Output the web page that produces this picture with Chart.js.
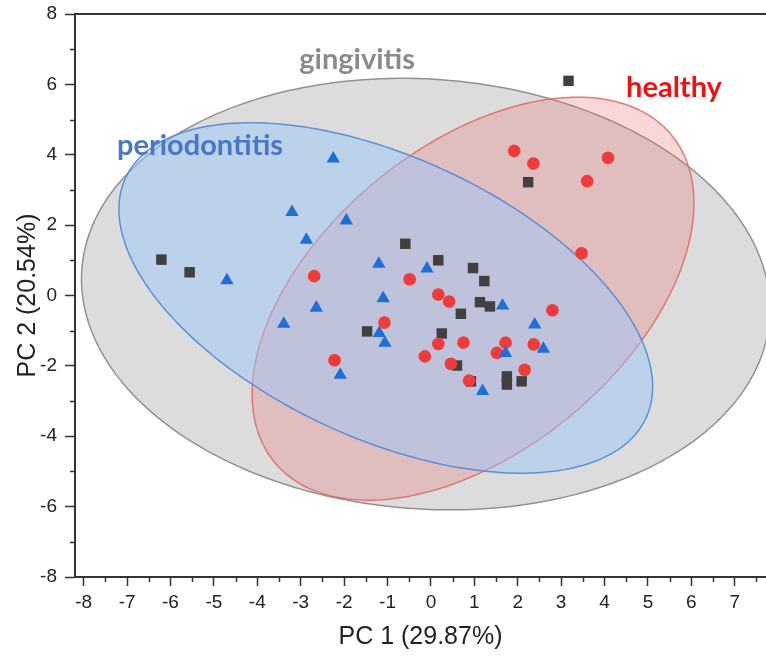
<!DOCTYPE html>
<html>
<head>
<meta charset="utf-8">
<script src="https://cdn.jsdelivr.net/npm/chart.js@4/dist/chart.umd.min.js"></script>
<style>
  html, body { margin: 0; padding: 0; background: #ffffff; }
  #wrap { width: 766px; height: 659px; }
</style>
</head>
<body>
<div id="wrap"><canvas id="pca" width="766" height="659"></canvas></div>
<script>
// Axis tick values
const xTickValues = [-8, -7, -6, -5, -4, -3, -2, -1, 0, 1, 2, 3, 4, 5, 6, 7];
const yTickValues = [-8, -6, -4, -2, 0, 2, 4, 6, 8];

// Group names
const groups = ['gingivitis', 'healthy', 'periodontitis'];

// PCA scores, gingivitis samples
const gingivitisPC1 = [3.17, 2.24, -6.21, -5.56, -0.59, 0.17, 0.97, 1.23, 1.13, 1.36, 0.69, 0.25, -1.47, 0.60, 0.92, 1.75, 1.75, 2.09];
const gingivitisPC2 = [6.10, 3.22, 1.02, 0.66, 1.47, 1.00, 0.78, 0.41, -0.19, -0.31, -0.52, -1.08, -1.02, -1.99, -2.44, -2.30, -2.53, -2.44];

// PCA scores, healthy samples
const healthyPC1 = [1.92, 2.36, 4.08, 3.60, 3.47, -2.69, -0.49, -1.07, 0.17, 0.42, 2.80, -2.22, -0.14, 0.17, 0.75, 1.72, 1.52, 2.37, 0.46, 0.88, 2.16];
const healthyPC2 = [4.11, 3.75, 3.91, 3.25, 1.20, 0.55, 0.46, -0.77, 0.03, -0.17, -0.42, -1.84, -1.73, -1.38, -1.34, -1.34, -1.63, -1.39, -1.94, -2.42, -2.11];

// PCA scores, periodontitis samples
const periodontitisPC1 = [-2.25, -3.20, -1.95, -2.87, -4.70, -2.64, -3.39, -2.09, -1.20, -0.09, -1.10, -1.19, -1.06, 1.65, 2.39, 2.59, 1.72, 1.19];
const periodontitisPC2 = [3.89, 2.37, 2.13, 1.58, 0.43, -0.35, -0.81, -2.26, 0.90, 0.76, -0.08, -1.07, -1.35, -0.29, -0.83, -1.52, -1.64, -2.72];

// 95% confidence ellipses: centre and covariance (sxx, sxy, syy) per group
const ellipseCentreX = [-0.12, 0.97, -1.04];
const ellipseCentreY = [0.04, -0.09, -0.07];
const ellipseSxx = [62.9, 25.9, 37.8];
const ellipseSxy = [-3.4, 13.8, -15.5];
const ellipseSyy = [37.6, 32.8, 24.8];

const toPoints = (xs, ys) => xs.map((x, i) => ({ x: x, y: ys[i] }));

const groupStyle = {
  gingivitis:    { marker: '#404040', fill: 'rgba(150,150,150,0.33)', line: 'rgba(140,140,140,0.95)', text: '#8a8a8a' },
  healthy:       { marker: '#ee3b3b', fill: 'rgba(238,110,110,0.28)', line: 'rgba(228,100,100,0.85)', text: '#f01010' },
  periodontitis: { marker: '#1f6fd6', fill: 'rgba(150,200,255,0.45)', line: 'rgba(85,140,215,0.95)', text: '#4a76c6' }
};

// Draws the confidence ellipses under the markers, mapped through the chart scales
const ellipsePlugin = {
  id: 'confidenceEllipses',
  beforeDatasetsDraw(chart) {
    const { ctx, chartArea, scales } = chart;
    const drawOrder = [0, 1, 2]; // gingivitis, healthy, periodontitis
    ctx.save();
    ctx.beginPath();
    ctx.rect(chartArea.left, chartArea.top, chartArea.right - chartArea.left, chartArea.bottom - chartArea.top);
    ctx.clip();
    drawOrder.forEach(g => {
      const l11 = Math.sqrt(ellipseSxx[g]);
      const l21 = ellipseSxy[g] / l11;
      const l22 = Math.sqrt(ellipseSyy[g] - l21 * l21);
      const st = groupStyle[groups[g]];
      ctx.beginPath();
      const n = 240;
      for (let k = 0; k <= n; k++) {
        const t = (k / n) * Math.PI * 2;
        const c = Math.cos(t), s = Math.sin(t);
        const vx = ellipseCentreX[g] + l11 * c;
        const vy = ellipseCentreY[g] + l21 * c + l22 * s;
        const px = scales.x.getPixelForValue(vx);
        const py = scales.y.getPixelForValue(vy);
        if (k === 0) ctx.moveTo(px, py); else ctx.lineTo(px, py);
      }
      ctx.closePath();
      ctx.fillStyle = st.fill;
      ctx.fill();
      ctx.lineWidth = 1.5;
      ctx.strokeStyle = st.line;
      ctx.stroke();
    });
    ctx.restore();
  }
};

// Frame line on top, minor ticks, and group names
const framePlugin = {
  id: 'frameAndLabels',
  afterDraw(chart) {
    const { ctx, chartArea, scales } = chart;
    ctx.save();
    // top frame line
    ctx.strokeStyle = '#333333';
    ctx.lineWidth = 2;
    ctx.beginPath();
    ctx.moveTo(chartArea.left, chartArea.top);
    ctx.lineTo(chartArea.right, chartArea.top);
    ctx.stroke();

    // minor ticks
    ctx.lineWidth = 1.5;
    for (let v = -7.5; v <= 7.5; v += 1) {
      const px = Math.round(scales.x.getPixelForValue(v)) + 0.5;
      if (px > chartArea.right) continue;
      ctx.beginPath();
      ctx.moveTo(px, chartArea.bottom);
      ctx.lineTo(px, chartArea.bottom + 5);
      ctx.stroke();
    }
    for (let v = -7; v <= 7; v += 2) {
      const py = Math.round(scales.y.getPixelForValue(v)) + 0.5;
      ctx.beginPath();
      ctx.moveTo(chartArea.left, py);
      ctx.lineTo(chartArea.left - 5, py);
      ctx.stroke();
    }

    // group names
    const labels = [
      { g: 0, x: -1.70, y: 6.69 },
      { g: 1, x: 5.60, y: 5.90 },
      { g: 2, x: -5.32, y: 4.25 }
    ];
    ctx.font = 'bold 29px Lato';
    ctx.textAlign = 'center';
    ctx.textBaseline = 'middle';
    labels.forEach(l => {
      ctx.fillStyle = groupStyle[groups[l.g]].text;
      ctx.fillText(groups[l.g], scales.x.getPixelForValue(l.x), scales.y.getPixelForValue(l.y));
    });
    ctx.restore();
  }
};

const tickFont = { family: 'Liberation Sans, Arial, sans-serif', size: 19 };
const titleFont = { family: 'Liberation Sans, Arial, sans-serif', size: 25 };

new Chart(document.getElementById('pca'), {
  type: 'scatter',
  data: {
    datasets: [
      {
        label: groups[2],
        data: toPoints(periodontitisPC1, periodontitisPC2),
        pointStyle: 'triangle',
        pointRadius: 7.7,
        backgroundColor: groupStyle.periodontitis.marker,
        borderWidth: 0,
        order: 1
      },
      {
        label: groups[1],
        data: toPoints(healthyPC1, healthyPC2),
        pointStyle: 'circle',
        pointRadius: 6.3,
        backgroundColor: groupStyle.healthy.marker,
        borderWidth: 0,
        order: 2
      },
      {
        label: groups[0],
        data: toPoints(gingivitisPC1, gingivitisPC2),
        pointStyle: 'rect',
        pointRadius: 7.4,
        backgroundColor: groupStyle.gingivitis.marker,
        borderWidth: 0,
        order: 3
      }
    ]
  },
  options: {
    responsive: false,
    devicePixelRatio: 1,
    animation: false,
    layout: { autoPadding: false, padding: { top: 14, right: 0, bottom: 0, left: 0 } },
    plugins: {
      legend: { display: false },
      tooltip: { enabled: false }
    },
    scales: {
      x: {
        type: 'linear',
        min: -8.2,
        max: 7.72,
        afterBuildTicks: s => { s.ticks = xTickValues.map(v => ({ value: v })); },
        afterFit: s => { s.height = 82; s.paddingLeft = 0; s.paddingRight = 0; },
        border: { display: true, color: '#333333', width: 2 },
        grid: { drawOnChartArea: false, drawTicks: true, tickLength: 9, tickWidth: 1.5, tickColor: '#333333' },
        ticks: { font: tickFont, color: '#222222', padding: 5, maxRotation: 0, autoSkip: false },
        title: { display: true, text: 'PC 1 (29.87%)', font: titleFont, color: '#222222', padding: { top: 0, bottom: 7 } }
      },
      y: {
        type: 'linear',
        min: -8,
        max: 8,
        afterBuildTicks: s => { s.ticks = yTickValues.map(v => ({ value: v })); },
        afterFit: s => { s.width = 75; s.paddingTop = 0; s.paddingBottom = 0; },
        border: { display: true, color: '#333333', width: 2 },
        grid: { drawOnChartArea: false, drawTicks: true, tickLength: 10, tickWidth: 1.5, tickColor: '#333333' },
        ticks: { font: tickFont, color: '#222222', padding: 8, autoSkip: false },
        title: { display: true, text: 'PC 2 (20.54%)', font: titleFont, color: '#222222', padding: { top: 13, bottom: 0 } }
      }
    }
  },
  plugins: [ellipsePlugin, framePlugin]
});
</script>
</body>
</html>
